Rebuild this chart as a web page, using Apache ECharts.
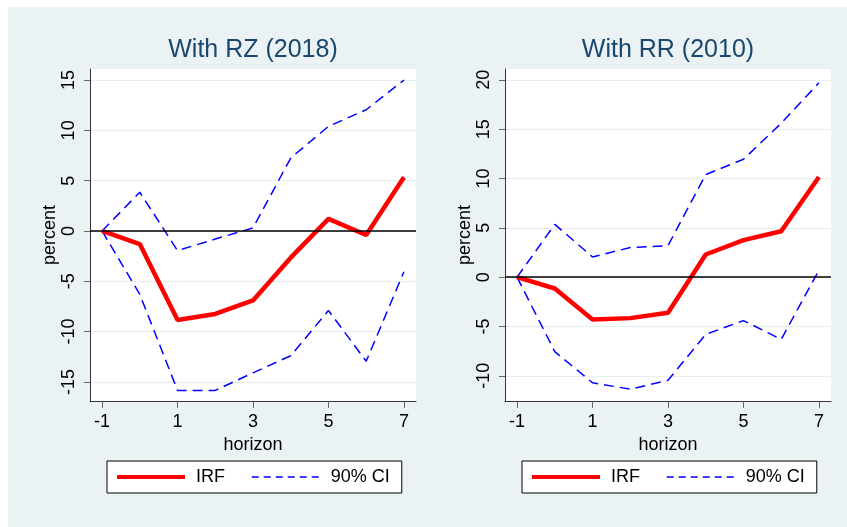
<!DOCTYPE html>
<html><head><meta charset="utf-8">
<script src="https://cdn.jsdelivr.net/npm/echarts@6/dist/echarts.min.js"></script>
<style>html,body{margin:0;padding:0;background:#fff}#c{width:847px;height:527px}</style>
</head><body><div id="c"></div>
<script>
// ---- data ----
const horizons = [-1, 0, 1, 2, 3, 4, 5, 6, 7];
const xTicks = [-1, 1, 3, 5, 7];
const panelTitles = ['With RZ (2018)', 'With RR (2010)'];
const rzIRF   = [0, -1.3, -8.85, -8.25, -6.9, -2.65, 1.2, -0.4, 5.35];
const rzUpper = [0, 3.85, -1.95, -0.8, 0.3, 7.25, 10.4, 12.05, 15.0];
const rzLower = [0, -6.3, -15.85, -15.85, -14.1, -12.4, -7.9, -12.95, -4.05];
const rrIRF   = [0, -1.15, -4.3, -4.15, -3.6, 2.3, 3.75, 4.65, 10.15];
const rrUpper = [0, 5.35, 2.05, 3.0, 3.2, 10.4, 11.95, 15.6, 19.7];
const rrLower = [0, -7.55, -10.7, -11.35, -10.45, -5.8, -4.4, -6.3, 0.7];
const rzYTicks = [-15, -10, -5, 0, 5, 10, 15];
const rrYTicks = [-10, -5, 0, 5, 10, 15, 20];

const FONT = "'Liberation Sans', Arial, sans-serif";
const chart = echarts.init(document.getElementById('c'), null, {renderer: 'canvas'});

function xAxisCfg(gi) {
  return {
    type: 'value', gridIndex: gi, min: -1.32, max: 7.32,
    name: 'horizon', nameLocation: 'middle', nameGap: 28,
    nameTextStyle: {fontSize: 18, color: '#000', fontFamily: FONT},
    axisLine: {show: true, onZero: false, lineStyle: {color: '#333', width: 1}},
    axisTick: {show: true, length: 7, customValues: xTicks, lineStyle: {color: '#666'}},
    axisLabel: {margin: 12, fontSize: 18, color: '#000', fontFamily: FONT, customValues: xTicks},
    splitLine: {show: false}
  };
}
function yAxisCfg(gi, min, max, ticks) {
  return {
    type: 'value', gridIndex: gi, min: min, max: max,
    name: 'percent', nameLocation: 'middle', nameGap: 29, nameRotate: 90,
    nameTextStyle: {fontSize: 18, color: '#000', fontFamily: FONT},
    axisLine: {show: true, onZero: false, lineStyle: {color: '#333', width: 1}},
    axisTick: {show: true, length: 6, customValues: ticks, lineStyle: {color: '#666'}},
    axisLabel: {rotate: 90, margin: 12, fontSize: 18, color: '#000', fontFamily: FONT, customValues: ticks},
    splitLine: {show: true, lineStyle: {color: '#e6eef0', width: 1}}
  };
}
function lineSeries(name, gi, vals, color, width, type, extra) {
  return Object.assign({
    type: 'line', name: name, xAxisIndex: gi, yAxisIndex: gi,
    data: horizons.map((h, i) => [h, vals[i]]),
    symbol: 'none', showSymbol: false, silent: true,
    lineStyle: {color: color, width: width, type: type},
    itemStyle: {color: color}
  }, extra || {});
}
const zeroLine = {
  silent: true, symbol: 'none', label: {show: false},
  lineStyle: {color: '#000', width: 1.6, type: 'solid'},
  data: [{yAxis: 0}]
};
const dash = [10, 6];

function legendCfg(left) {
  return {
    left: left, top: 461, orient: 'horizontal',
    data: [
      {name: 'IRF', lineStyle: {width: 4, color: '#ff0000', type: 'solid'}, itemStyle: {opacity: 0}},
      {name: '90% CI', lineStyle: {width: 1.5, color: '#0000ff', type: [7, 5]}, itemStyle: {opacity: 0}}
    ],
    selectedMode: false,
    itemWidth: 68, itemHeight: 14, itemGap: 26,
    padding: [7, 12, 7, 8],
    itemStyle: {opacity: 0},
    borderColor: '#000', borderWidth: 1, borderRadius: 0, backgroundColor: '#fff',
    textStyle: {fontSize: 18, color: '#000', fontFamily: FONT, padding: [0, 0, 0, 6]}
  };
}

const option = {
  animation: false,
  backgroundColor: '#eaf2f3',
  graphic: [
    {type: 'rect', left: 0, top: 0, shape: {width: 8, height: 527}, style: {fill: '#fff'}, silent: true},
    {type: 'rect', left: 0, top: 0, shape: {width: 847, height: 7}, style: {fill: '#fff'}, silent: true}
  ],
  title: [
    {text: panelTitles[0], left: 253, top: 38, textAlign: 'center', padding: 0,
     textStyle: {fontSize: 25, fontWeight: 'normal', color: '#1a476f', fontFamily: FONT}},
    {text: panelTitles[1], left: 668, top: 38, textAlign: 'center', padding: 0,
     textStyle: {fontSize: 25, fontWeight: 'normal', color: '#1a476f', fontFamily: FONT}}
  ],
  grid: [
    {left: 90, top: 69, width: 326, height: 332, show: true, backgroundColor: '#fff', borderWidth: 0, containLabel: false},
    {left: 505, top: 69, width: 326, height: 332, show: true, backgroundColor: '#fff', borderWidth: 0, containLabel: false}
  ],
  xAxis: [xAxisCfg(0), xAxisCfg(1)],
  yAxis: [yAxisCfg(0, -16.9, 16.1, rzYTicks), yAxisCfg(1, -12.55, 21.1, rrYTicks)],
  legend: [legendCfg(107), legendCfg(522)],
  series: [
    lineSeries('90% CI', 0, rzUpper, '#0000ff', 1.5, dash),
    lineSeries('90% CI', 0, rzLower, '#0000ff', 1.5, dash),
    lineSeries('IRF', 0, rzIRF, '#ff0000', 4.5, 'solid', {markLine: zeroLine, z: 3}),
    lineSeries('90% CI', 1, rrUpper, '#0000ff', 1.5, dash),
    lineSeries('90% CI', 1, rrLower, '#0000ff', 1.5, dash),
    lineSeries('IRF', 1, rrIRF, '#ff0000', 4.5, 'solid', {markLine: zeroLine, z: 3})
  ]
};
chart.setOption(option);
</script>
</body></html>
